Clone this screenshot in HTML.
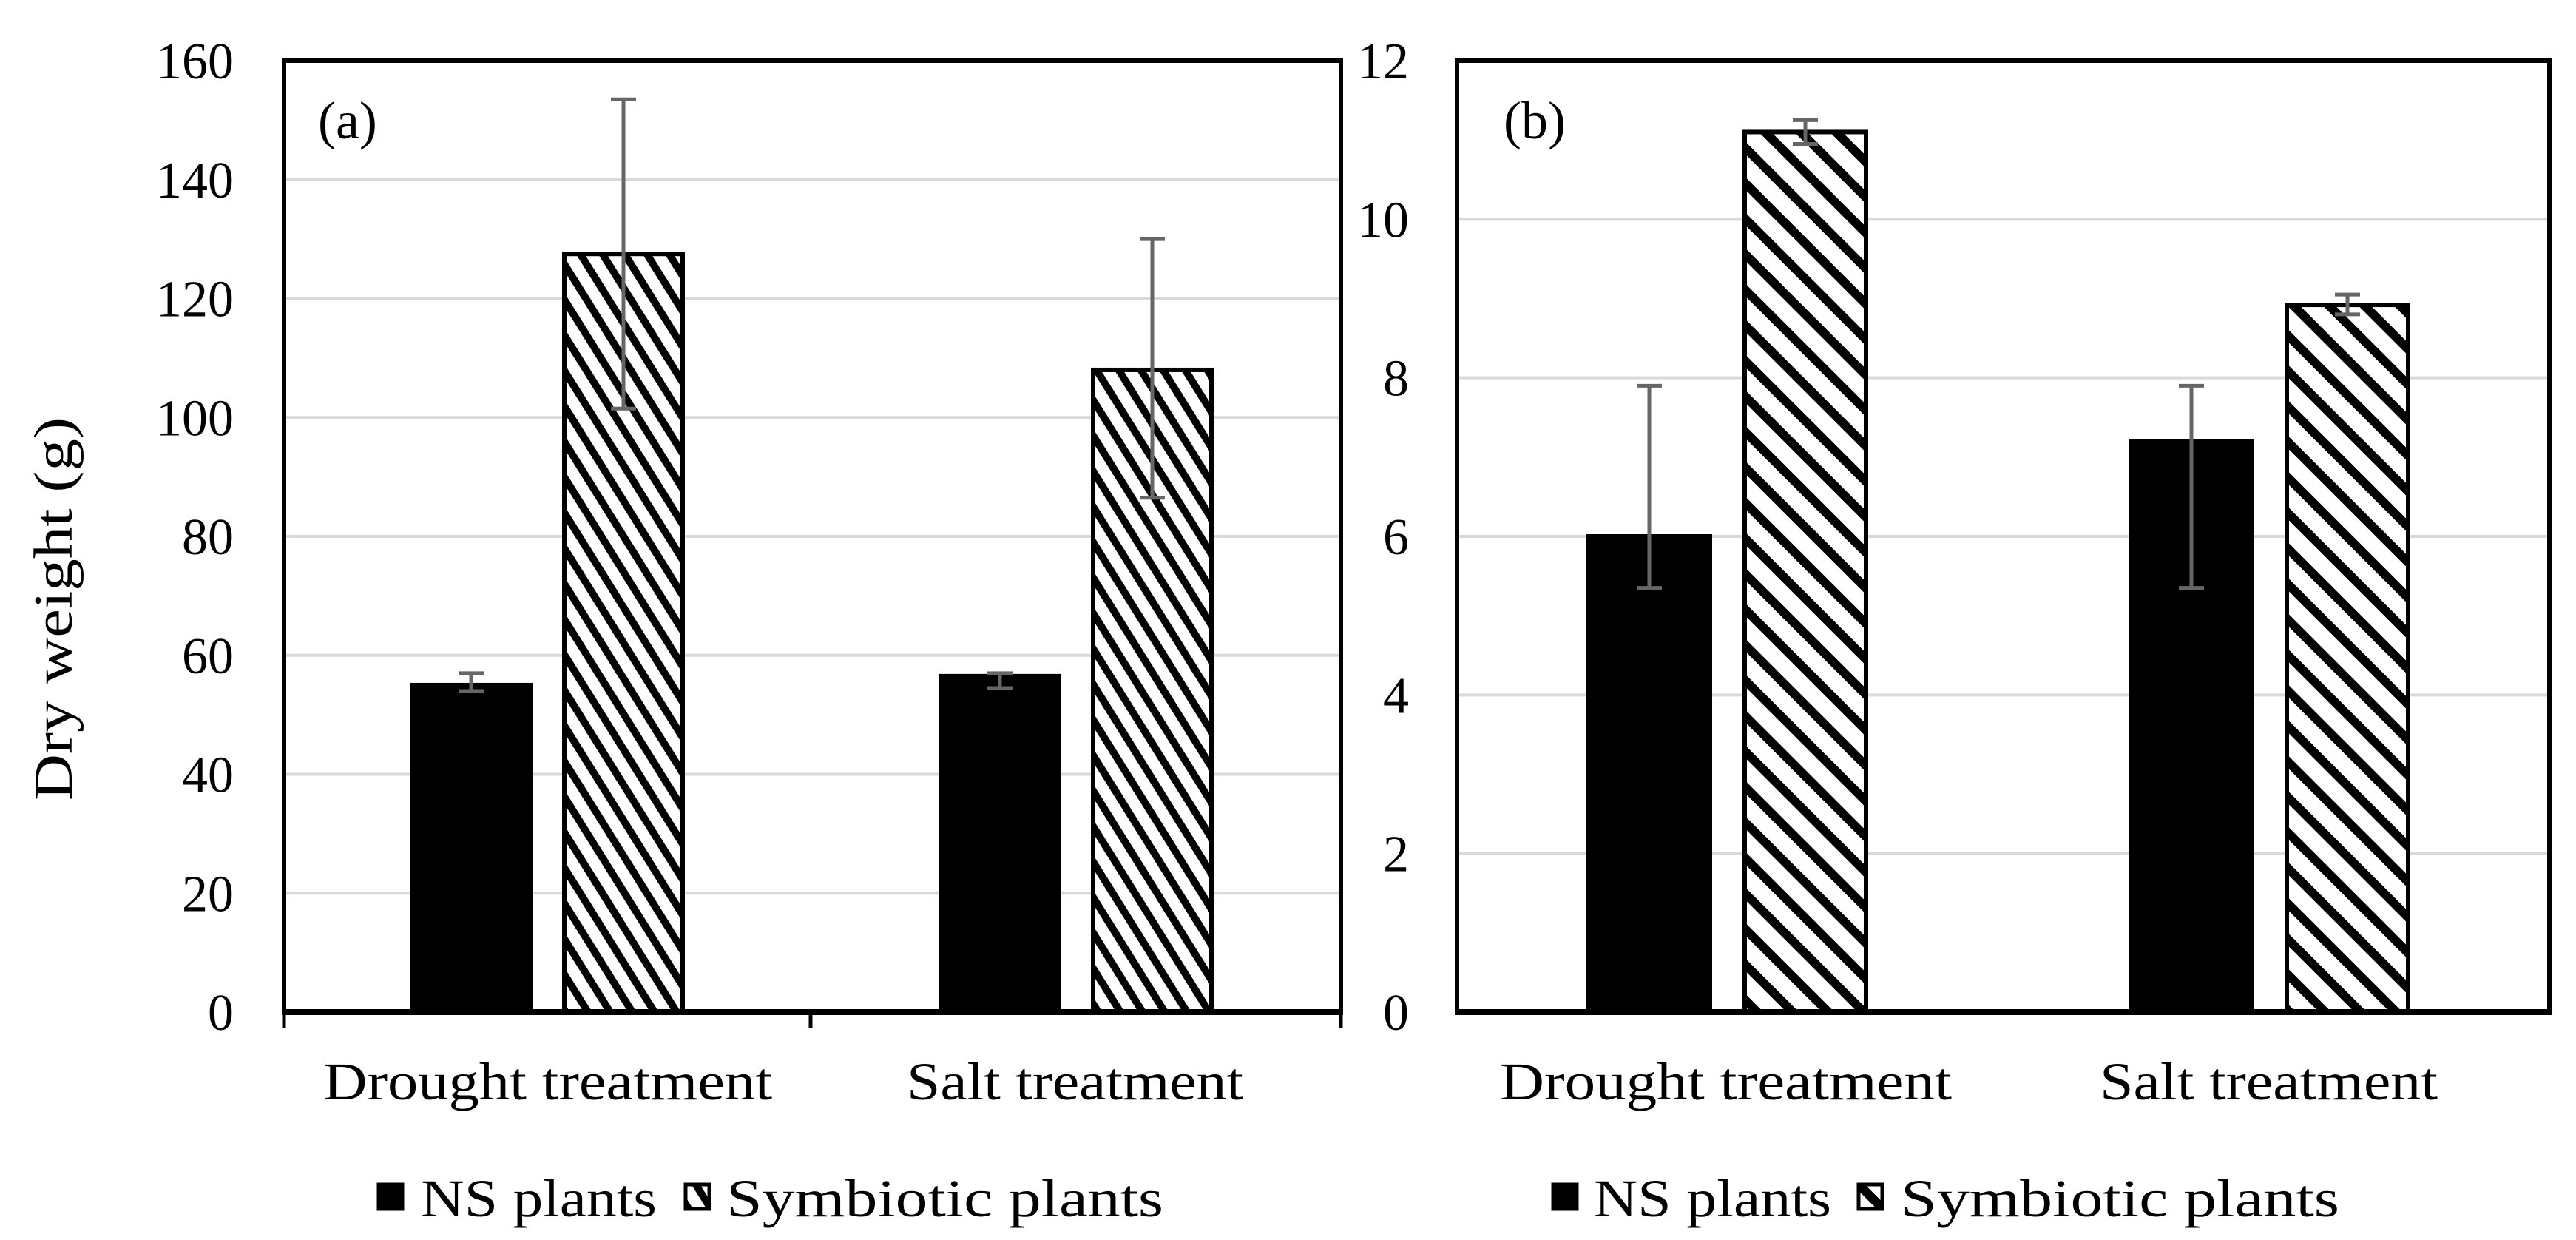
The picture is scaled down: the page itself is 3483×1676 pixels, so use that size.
<!DOCTYPE html>
<html><head><meta charset="utf-8"><style>
html,body{margin:0;padding:0;background:#fff;}
svg{display:block;font-family:"Liberation Serif",serif;}
</style></head><body>
<svg id="chart" width="3483" height="1676" viewBox="0 0 3483 1676" xmlns="http://www.w3.org/2000/svg">
<defs>
<pattern id="hatchA" patternUnits="userSpaceOnUse" width="30" height="48">
<rect width="30" height="48" fill="#fff"/>
<line x1="-30" y1="-48" x2="60" y2="96" stroke="#000" stroke-width="10"/>
<line x1="-60" y1="-48" x2="30" y2="96" stroke="#000" stroke-width="10"/>
<line x1="0" y1="-48" x2="90" y2="96" stroke="#000" stroke-width="10"/>
</pattern>
<pattern id="hatchB" patternUnits="userSpaceOnUse" width="48" height="48">
<rect width="48" height="48" fill="#fff"/>
<line x1="-48" y1="-48" x2="96" y2="96" stroke="#000" stroke-width="12"/>
<line x1="-96" y1="-48" x2="48" y2="96" stroke="#000" stroke-width="12"/>
<line x1="0" y1="-48" x2="144" y2="96" stroke="#000" stroke-width="12"/>
</pattern>
</defs>
<g id="root"></g>
</svg>
<script>
const categories = ["Drought treatment", "Salt treatment"];
const seriesNames = ["NS plants", "Symbiotic plants"];
const aNS = [55, 56.5];
const aNSlo = [54, 54.5];
const aNShi = [57, 57];
const aSym = [127.5, 108];
const aSymLo = [101.5, 86.5];
const aSymHi = [153.5, 130];
const aTicks = [0, 20, 40, 60, 80, 100, 120, 140, 160];
const bNS = [6, 7.2];
const bNSlo = [5.35, 5.35];
const bNShi = [7.9, 7.9];
const bSym = [11.1, 8.92];
const bSymLo = [10.95, 8.8];
const bSymHi = [11.25, 9.05];
const bTicks = [0, 2, 4, 6, 8, 10, 12];

const NS = "http://www.w3.org/2000/svg";
const root = document.getElementById('root');
function mk(tag, attrs, parent){
  const e = document.createElementNS(NS, tag);
  for (const k in attrs) e.setAttribute(k, attrs[k]);
  (parent||root).appendChild(e);
  return e;
}

function panel(cfg){
  const g = mk('g', {});
  
  
  const y = v => cfg.y0 - (v - cfg.min) / (cfg.max - cfg.min) * (cfg.y0 - cfg.top);
  cfg.ticks.forEach(t => {
    if (t !== cfg.min) {
      const l = mk('line', {x1: cfg.left, x2: cfg.right, y1: y(t), y2: y(t), stroke: '#d9d9d9', 'stroke-width': 4}, g);
      
      
    }
    const tx = mk('text', {x: cfg.labelX, y: y(t) + 24, 'text-anchor': 'end', 'font-size': 70, fill: '#000'}, g);
    tx.textContent = t;
    
    
  });
  for (let i = 0; i < categories.length; i++) {
    const specs = [
      {v: cfg.ns[i], lo: cfg.nsLo[i], hi: cfg.nsHi[i], x: cfg.nsX[i], fill: '#000', n: 'bar-ns-' + i},
      {v: cfg.sym[i], lo: cfg.symLo[i], hi: cfg.symHi[i], x: cfg.symX[i], fill: 'url(#' + cfg.hatch + ')', n: 'bar-symbiotic-' + i}
    ];
    specs.forEach(s => {
      const r = mk('rect', {x: s.x, y: y(s.v), width: cfg.barW, height: cfg.y0 - y(s.v), fill: s.fill, stroke: '#000', 'stroke-width': 6}, g);
      
      
      const cx = s.x + cfg.barW / 2;
      const eg = mk('g', {stroke: '#666', 'stroke-width': 5}, g);
      
      
      mk('line', {x1: cx, x2: cx, y1: y(s.lo), y2: y(s.hi)}, eg);
      mk('line', {x1: cx - 17, x2: cx + 17, y1: y(s.lo), y2: y(s.lo)}, eg);
      mk('line', {x1: cx - 17, x2: cx + 17, y1: y(s.hi), y2: y(s.hi)}, eg);
    });
  }
  const f = mk('rect', {x: cfg.left, y: cfg.top, width: cfg.right - cfg.left, height: cfg.y0 - cfg.top, fill: 'none', stroke: '#000', 'stroke-width': 6}, g);
  
  
  const ax = mk('line', {x1: cfg.left - 3, x2: cfg.right + 3, y1: cfg.y0, y2: cfg.y0, stroke: '#000', 'stroke-width': 8}, g);
  
  
  (cfg.xticks || []).forEach(tx => {
    const l = mk('line', {x1: tx, x2: tx, y1: cfg.y0, y2: cfg.y0 + 22, stroke: '#000', 'stroke-width': 5}, g);
    
    
  });
  categories.forEach((c, i) => {
    const t = mk('text', {x: cfg.catX[i], y: 1486, 'font-size': 72, textLength: cfg.catW[i], lengthAdjust: 'spacingAndGlyphs'}, g);
    t.textContent = c;
    
    
  });
  const pl = mk('text', {x: cfg.letterX, y: 187, 'font-size': 72}, g);
  pl.textContent = cfg.letter;
  
  
  const lg = mk('g', {}, g);
  
  
  seriesNames.forEach((s, i) => {
    const sq = mk('rect', {x: cfg.legSq[i], y: 1601, width: 32, height: 33, fill: i === 0 ? '#000' : 'url(#' + cfg.hatch + ')', stroke: '#000', 'stroke-width': 5}, lg);
    
    
    const t = mk('text', {x: cfg.legTx[i], y: 1644, 'font-size': 72, textLength: cfg.legW[i], lengthAdjust: 'spacingAndGlyphs'}, lg);
    t.textContent = s;
    
    
  });
}

panel({name: 'panel-a', left: 384, right: 1813, top: 82, y0: 1368, min: 0, max: 160, ticks: aTicks, labelX: 316,
  ns: aNS, nsLo: aNSlo, nsHi: aNShi, sym: aSym, symLo: aSymLo, symHi: aSymHi,
  nsX: [557, 1272], symX: [763, 1478], barW: 160, hatch: 'hatchA', xticks: [384, 1096, 1813],
  catX: [437, 1226], catW: [607, 455], letter: '(a)', letterX: 430,
  legSq: [512, 927], legTx: [569, 982], legW: [319, 591]});

panel({name: 'panel-b', left: 1970, right: 3447, top: 82, y0: 1368, min: 0, max: 12, ticks: bTicks, labelX: 1905,
  ns: bNS, nsLo: bNSlo, nsHi: bNShi, sym: bSym, symLo: bSymLo, symHi: bSymHi,
  nsX: [2148, 2881], symX: [2359, 3092], barW: 164, hatch: 'hatchB',
  catX: [2028, 2839], catW: [611, 457], letter: '(b)', letterX: 2033,
  legSq: [2100, 2513], legTx: [2155, 2570], legW: [321, 593]});

const yt = mk('text', {x: 0, y: 0, 'font-size': 74, 'text-anchor': 'middle', transform: 'translate(97,823) rotate(-90)', textLength: 518, lengthAdjust: 'spacingAndGlyphs'});
yt.textContent = 'Dry weight (g)';


</script>
</body></html>
